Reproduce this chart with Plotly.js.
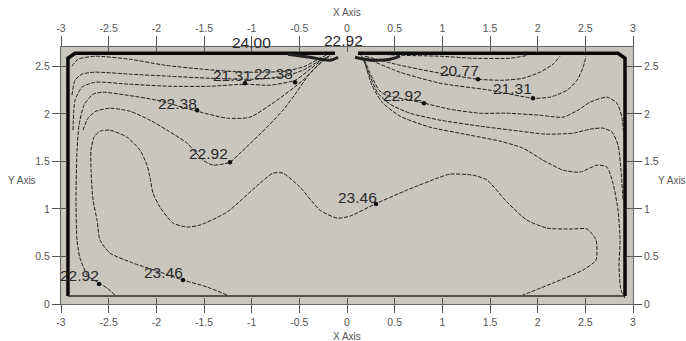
<!DOCTYPE html>
<html>
<head>
<meta charset="utf-8">
<script src="https://cdn.plot.ly/plotly-3.0.1.min.js"></script>
<style>html,body{margin:0;padding:0;background:#fff;}#chart{width:686px;height:341px;}</style>
</head>
<body>
<div id="chart"></div>
<script>
// ---- axis ticks ----
const xTickVals = [-3, -2.5, -2, -1.5, -1, -0.5, 0, 0.5, 1, 1.5, 2, 2.5, 3];
const xTickText = ['-3', '-2.5', '-2', '-1.5', '-1', '-0.5', '0', '0.5', '1', '1.5', '2', '2.5', '3'];
const yTickVals = [0, 0.5, 1, 1.5, 2, 2.5];
const yTickText = ['0', '0.5', '1', '1.5', '2', '2.5'];
const xRange = [-3, 3];
const yRange = [0, 2.705];

// ---- domain walls (axis units) ----
const wallLeftX = [-0.126, -2.853, -2.927, -2.927];
const wallLeftY = [2.639, 2.639, 2.587, 0.084];
const wallBottomX = [-2.927, 2.916];
const wallBottomY = [0.084, 0.084];
const wallRightX = [2.916, 2.916, 2.843, 0.115];
const wallRightY = [0.084, 2.587, 2.639, 2.639];
const inletLeftX = [-0.619, -0.388, -0.178, -0.094];
const inletLeftY = [2.629, 2.597, 2.566, 2.597];
const inletRightX = [0.084, 0.262, 0.451, 0.556];
const inletRightY = [2.597, 2.566, 2.576, 2.608];

// ---- contour lines (axis units) ----
const lineAX = [-2.885, -2.822, -2.643, -2.276, -1.909, -1.511, -1.070, -0.650, -0.441, -0.304, -0.220];
const lineAY = [2.503, 2.576, 2.608, 2.576, 2.513, 2.471, 2.440, 2.450, 2.503, 2.576, 2.618];
const lineBX = [-2.885, -2.853, -2.780, -2.643, -2.276, -1.857, -1.437, -0.944, -0.650, -0.462, -0.315, -0.199];
const lineBY = [2.198, 2.355, 2.419, 2.440, 2.419, 2.397, 2.376, 2.366, 2.397, 2.461, 2.545, 2.608];
const lineCX = [-2.874, -2.853, -2.780, -2.643, -2.276, -1.857, -1.437, -1.070, -0.808, -0.545, -0.388, -0.262, -0.168];
const lineCY = [1.830, 2.145, 2.282, 2.334, 2.313, 2.292, 2.292, 2.313, 2.303, 2.355, 2.471, 2.566, 2.608];
const lineDX = [-2.434, -2.518, -2.601, -2.717, -2.801, -2.832, -2.843, -2.832, -2.811, -2.759, -2.664, -2.560, -2.308, -1.993, -1.573, -1.259, -1.018, -0.734, -0.462, -0.283, -0.178];
const lineDY = [0.095, 0.168, 0.221, 0.294, 0.484, 0.673, 1.094, 1.619, 1.882, 2.093, 2.208, 2.229, 2.198, 2.145, 2.029, 1.956, 1.966, 2.145, 2.355, 2.534, 2.618];
const lineEX = [-2.769, -2.717, -2.633, -2.486, -2.276, -2.067, -1.888, -1.678, -1.511, -1.406, -1.227, -1.122, -0.839, -0.671, -0.566, -0.388, -0.210];
const lineEY = [1.830, 1.956, 2.029, 2.061, 2.029, 1.935, 1.830, 1.693, 1.514, 1.462, 1.493, 1.588, 1.861, 2.040, 2.177, 2.429, 2.597];
const line2346X = [-1.259, -1.469, -1.720, -1.962, -2.245, -2.486, -2.591, -2.622, -2.664, -2.685, -2.685, -2.654, -2.591, -2.486, -2.308, -2.171, -2.098, -2.067, -2.035, -1.962, -1.825, -1.678, -1.542, -1.259, -0.913, -0.776, -0.671, -0.493, -0.283, -0.105, 0.031, 0.294, 0.629, 0.976, 1.080, 1.322, 1.469, 1.678, 1.888, 2.098, 2.339, 2.518, 2.612, 2.612, 2.476, 2.161, 1.846];
const line2346Y = [0.095, 0.179, 0.252, 0.336, 0.431, 0.536, 0.673, 0.883, 1.094, 1.409, 1.619, 1.756, 1.819, 1.830, 1.756, 1.619, 1.462, 1.335, 1.167, 1.020, 0.852, 0.810, 0.831, 0.967, 1.272, 1.377, 1.377, 1.230, 0.988, 0.904, 0.925, 1.052, 1.199, 1.335, 1.367, 1.356, 1.304, 1.073, 0.883, 0.799, 0.789, 0.789, 0.673, 0.463, 0.358, 0.221, 0.095];
const lineR0X = [0.168, 0.556, 0.976, 1.322, 1.710, 1.899];
const lineR0Y = [2.639, 2.618, 2.608, 2.587, 2.587, 2.618];
const lineR1X = [0.189, 0.556, 0.976, 1.374, 1.636, 1.846, 2.025, 2.161, 2.234];
const lineR1Y = [2.608, 2.513, 2.429, 2.366, 2.355, 2.376, 2.440, 2.524, 2.608];
const lineR2X = [0.199, 0.556, 0.976, 1.500, 1.951, 2.129, 2.308, 2.413, 2.476, 2.507];
const lineR2Y = [2.587, 2.440, 2.324, 2.250, 2.166, 2.177, 2.250, 2.355, 2.492, 2.608];
const lineR5X = [0.147, 0.199, 0.241, 0.294, 0.336, 0.409, 0.608, 0.808, 1.080, 1.395, 1.678, 2.025, 2.266, 2.423, 2.549, 2.727, 2.832, 2.885, 2.906];
const lineR5Y = [2.618, 2.534, 2.429, 2.324, 2.250, 2.198, 2.156, 2.114, 2.050, 2.008, 2.008, 1.987, 1.966, 2.040, 2.124, 2.177, 2.114, 1.956, 1.724];
const lineR4X = [0.168, 0.241, 0.325, 0.451, 0.661, 0.976, 1.395, 1.815, 2.077, 2.371, 2.549, 2.685, 2.780, 2.843, 2.874, 2.895];
const lineR4Y = [2.587, 2.397, 2.219, 2.103, 2.008, 1.935, 1.872, 1.819, 1.788, 1.798, 1.840, 1.851, 1.809, 1.672, 1.409, 1.094];
const lineR6X = [0.178, 0.262, 0.367, 0.556, 0.871, 1.290, 1.605, 1.846, 2.056, 2.266, 2.444, 2.623, 2.727, 2.790, 2.843, 2.864, 2.853, 2.874, 2.916];
const lineR6Y = [2.566, 2.303, 2.124, 1.977, 1.861, 1.777, 1.714, 1.640, 1.514, 1.409, 1.388, 1.462, 1.441, 1.272, 0.988, 0.673, 0.389, 0.147, 0.063];

// ---- contour labels ----
const labelText = ['24.00', '22.92', '21.31', '22.38', '22.38', '22.92', '23.46', '23.46', '22.92', '20.77', '21.31', '22.92'];
const labelX = [-1.007, -0.042, -1.206, -0.776, -1.783, -1.448, 0.105, -1.920, -2.811, 1.175, 1.731, 0.587];
const labelY = [2.755, 2.776, 2.408, 2.429, 2.114, 1.588, 1.125, 0.336, 0.305, 2.461, 2.271, 2.198];
const dotX = [-1.070, -0.545, -1.573, -1.227, 0.304, -1.720, -2.601, 1.374, 1.951, 0.808];
const dotY = [2.324, 2.334, 2.040, 1.493, 1.052, 0.252, 0.210, 2.366, 2.166, 2.114];

const FONT = 'Liberation Sans, Arial, sans-serif';
const contourStyle = {color: '#1e1e1e', width: 1, dash: '4px,1.5px', shape: 'spline', smoothing: 0.6};
const traces = [];
function addLine(xs, ys, style) {
  traces.push({type: 'scatter', mode: 'lines', x: xs, y: ys, line: style, hoverinfo: 'skip', showlegend: false, cliponaxis: false});
}
const wallStyle = {color: '#0a0a0a', width: 3.5};
addLine(wallLeftX, wallLeftY, wallStyle);
addLine(wallRightX, wallRightY, wallStyle);
addLine(wallBottomX, wallBottomY, {color: '#2a2a2a', width: 1.6});
addLine(inletLeftX, inletLeftY, {color: '#222', width: 3, shape: 'spline'});
addLine(inletRightX, inletRightY, {color: '#222', width: 3, shape: 'spline'});
[[lineAX, lineAY], [lineBX, lineBY], [lineCX, lineCY], [lineDX, lineDY], [lineEX, lineEY],
 [line2346X, line2346Y], [lineR0X, lineR0Y], [lineR1X, lineR1Y], [lineR2X, lineR2Y],
 [lineR5X, lineR5Y], [lineR4X, lineR4Y], [lineR6X, lineR6Y]].forEach(p => addLine(p[0], p[1], contourStyle));
traces.push({type: 'scatter', mode: 'markers', x: dotX, y: dotY, marker: {color: '#111', size: 4.5}, hoverinfo: 'skip', showlegend: false, cliponaxis: false});
// helper traces so the extra axes are drawn
['2', '3', '4'].forEach(k => traces.push({type: 'scatter', mode: 'markers', x: xRange, y: yRange, xaxis: 'x' + k, yaxis: 'y' + k, marker: {opacity: 0}, hoverinfo: 'skip', showlegend: false}));

const tickFont = {family: FONT, size: 10.5, color: '#555'};
const baseX = {range: xRange, tickmode: 'array', tickvals: xTickVals, ticktext: xTickText, showgrid: false, zeroline: false, fixedrange: true, tickcolor: '#555', tickwidth: 1, tickfont: tickFont};
const baseY = {range: yRange, tickmode: 'array', tickvals: yTickVals, ticktext: yTickText, showgrid: false, zeroline: false, fixedrange: true, tickcolor: '#555', tickwidth: 1, tickfont: tickFont};

// contour labels: x in data units; y converted to paper fraction so labels above the frame stay visible
const annotations = labelText.map((t, i) => ({
  x: labelX[i], y: labelY[i] / yRange[1], xref: 'x', yref: 'paper',
  xanchor: 'center', yanchor: 'middle',
  text: t, showarrow: false, font: {family: FONT, size: 15.5, color: '#2a2a2a'}
}));
const titleFont = {family: FONT, size: 10, color: '#555'};
// axis titles placed in pixels relative to plot area (plot: 572 x 257)
annotations.push({xref: 'paper', yref: 'paper', x: 0.5, y: 1 + 35 / 257, xanchor: 'center', yanchor: 'middle', text: 'X Axis', showarrow: false, font: titleFont});
annotations.push({xref: 'paper', yref: 'paper', x: 0.5, y: -32 / 257, xanchor: 'center', yanchor: 'middle', text: 'X Axis', showarrow: false, font: titleFont});
annotations.push({xref: 'paper', yref: 'paper', x: -39 / 572, y: 0.48, xanchor: 'center', yanchor: 'middle', text: 'Y Axis', showarrow: false, font: titleFont});
annotations.push({xref: 'paper', yref: 'paper', x: 1 + 39 / 572, y: 0.48, xanchor: 'center', yanchor: 'middle', text: 'Y Axis', showarrow: false, font: titleFont});

const layout = {
  width: 686, height: 341,
  margin: {l: 61, r: 53, t: 47, b: 37, pad: 0},
  paper_bgcolor: '#ffffff', plot_bgcolor: '#c9c6c0',
  showlegend: false,
  xaxis: Object.assign({}, baseX, {side: 'bottom', ticks: 'outside', ticklen: 8, showline: true, linecolor: '#666', linewidth: 1}),
  xaxis2: Object.assign({}, baseX, {overlaying: 'x', anchor: 'y2', side: 'top', ticks: 'outside', ticklen: 10, showline: true, linecolor: '#666', linewidth: 1}),
  xaxis3: Object.assign({}, baseX, {overlaying: 'x', anchor: 'y3', side: 'bottom', ticks: 'inside', ticklen: 6, showticklabels: false, showline: false}),
  xaxis4: Object.assign({}, baseX, {overlaying: 'x', anchor: 'y4', side: 'top', ticks: 'inside', ticklen: 5, showticklabels: false, showline: false}),
  yaxis: Object.assign({}, baseY, {side: 'left', ticks: 'outside', ticklen: 8, showline: true, linecolor: '#666', linewidth: 1}),
  yaxis2: Object.assign({}, baseY, {overlaying: 'y', anchor: 'x2', side: 'right', ticks: 'outside', ticklen: 8, showline: true, linecolor: '#666', linewidth: 1}),
  yaxis3: Object.assign({}, baseY, {overlaying: 'y', anchor: 'x3', side: 'left', ticks: 'inside', ticklen: 6, showticklabels: false, showline: false}),
  yaxis4: Object.assign({}, baseY, {overlaying: 'y', anchor: 'x4', side: 'right', ticks: 'inside', ticklen: 6, showticklabels: false, showline: false}),
  annotations: annotations
};
Plotly.newPlot('chart', traces, layout, {staticPlot: true, displayModeBar: false});
</script>
</body>
</html>
